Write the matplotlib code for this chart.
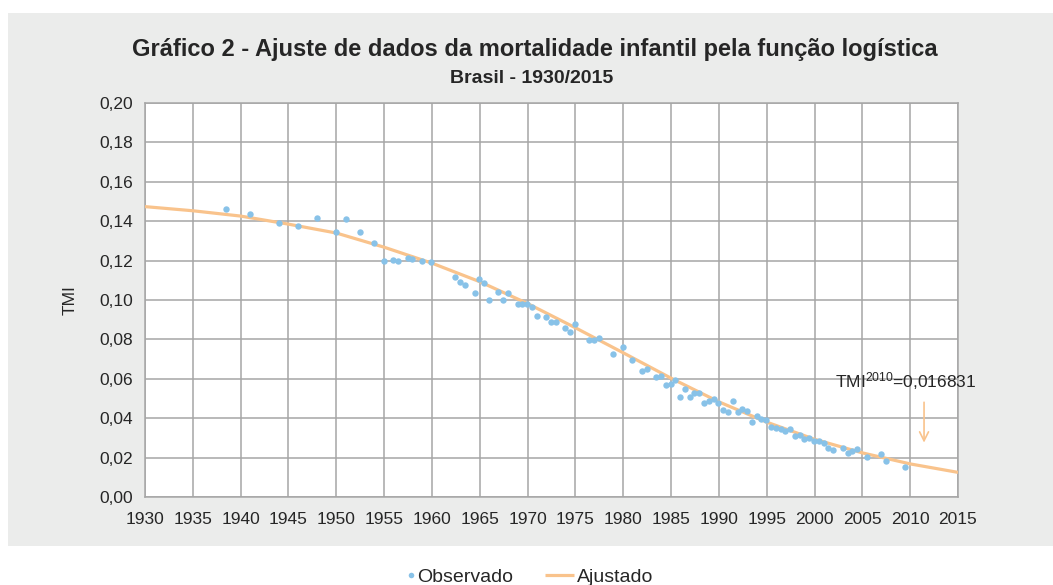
import matplotlib
matplotlib.use("Agg")
import matplotlib.pyplot as plt
from matplotlib.patches import Rectangle
from matplotlib.ticker import MultipleLocator, FuncFormatter
from matplotlib.legend_handler import HandlerLine2DCompound

# ---------------- data ----------------
obs_years = [1938.5, 1941.0, 1944.0, 1946.0, 1948.0, 1950.0, 1951.0, 1952.45, 1953.95,
             1954.95, 1955.95, 1956.45, 1957.45, 1957.95, 1958.95, 1959.95,
             1962.45, 1962.95, 1963.45, 1964.45, 1964.95, 1965.45, 1965.95, 1966.95,
             1967.45, 1967.95, 1968.95, 1969.45, 1969.95, 1970.45, 1970.95, 1971.95,
             1972.45, 1972.95, 1973.95, 1974.45, 1974.95, 1976.45, 1976.95, 1977.45,
             1978.95, 1979.95, 1980.95, 1981.95, 1982.45, 1983.45, 1983.95, 1984.45,
             1984.95, 1985.45, 1985.95, 1986.45, 1986.95, 1987.45, 1987.95, 1988.45,
             1988.95, 1989.45, 1989.95, 1990.45, 1990.95, 1991.45, 1991.95, 1992.45,
             1992.95, 1993.45, 1993.95, 1994.45, 1994.95, 1995.45, 1995.95, 1996.45,
             1996.95, 1997.45, 1997.95, 1998.45, 1998.95, 1999.45, 1999.95, 2000.45,
             2000.95, 2001.45, 2001.95, 2002.95, 2003.45, 2003.95, 2004.45, 2005.45,
             2006.95, 2007.45, 2009.45]
obs_values = [0.1460, 0.1435, 0.1390, 0.1374, 0.1418, 0.1345, 0.1411, 0.1344, 0.1289,
              0.1198, 0.1205, 0.1196, 0.1215, 0.1206, 0.1196, 0.1191,
              0.1115, 0.1091, 0.1078, 0.1037, 0.1108, 0.1088, 0.1002, 0.1042,
              0.1002, 0.1037, 0.0981, 0.0978, 0.0981, 0.0966, 0.0917, 0.0912,
              0.0890, 0.0888, 0.0858, 0.0838, 0.0877, 0.0797, 0.0797, 0.0807,
              0.0724, 0.0761, 0.0694, 0.0640, 0.0650, 0.0611, 0.0614, 0.0569,
              0.0572, 0.0593, 0.0506, 0.0548, 0.0508, 0.0530, 0.0530, 0.0479,
              0.0487, 0.0497, 0.0476, 0.0440, 0.0431, 0.0486, 0.0433, 0.0447,
              0.0437, 0.0381, 0.0410, 0.0394, 0.0391, 0.0355, 0.0352, 0.0345,
              0.0335, 0.0343, 0.0311, 0.0313, 0.0293, 0.0299, 0.0284, 0.0286,
              0.0276, 0.0249, 0.0239, 0.0250, 0.0223, 0.0235, 0.0242, 0.0205,
              0.0217, 0.0183, 0.0154]

fit_years = [1930, 1935, 1940, 1945, 1950, 1955, 1960, 1965, 1970, 1975,
             1980, 1985, 1990, 1995, 2000, 2005, 2010, 2015]
fit_values = [0.1474, 0.1453, 0.1426, 0.1385, 0.1340, 0.1268, 0.1187, 0.1093, 0.0982,
              0.0859, 0.0732, 0.0603, 0.0483, 0.0380, 0.0293, 0.0224, 0.0168, 0.0125]

title_line1 = "Gráfico 2 - Ajuste de dados da mortalidade infantil pela função logística"
title_line2 = "Brasil - 1930/2015"
ylabel_text = "TMI"
annot_text = "TMI$^{2010}$=0,016831"
series_names = ["Observado", "Ajustado"]

# ---------------- style ----------------
plt.rcParams['font.family'] = ['Liberation Sans', 'DejaVu Sans']
plt.rcParams['mathtext.default'] = 'regular'
TEXT = "#262626"
GRID = "#a6a6a6"
BLUE = "#88c2e8"
ORANGE = "#f9c38c"

fig = plt.figure(figsize=(10.53, 5.85), dpi=100)
fig.patch.set_facecolor("white")
fig.patches.append(Rectangle((8 / 1053, 39 / 585), 1 - 8 / 1053, (546 - 13) / 585,
                             transform=fig.transFigure, facecolor="#ebeceb",
                             edgecolor="none", zorder=-10))

ax = fig.add_axes([145 / 1053, (585 - 497) / 585, (958 - 145) / 1053, (497 - 103) / 585])
ax.set_facecolor("white")

ax.plot(fit_years, fit_values, color=ORANGE, lw=2.3, zorder=3, solid_capstyle="butt",
        solid_joinstyle="round", label=series_names[1])
ax.plot(obs_years, obs_values, linestyle="none", marker="o", ms=4.6, color=BLUE,
        markeredgewidth=0, zorder=4, label=series_names[0])

ax.set_xlim(1930, 2015)
ax.set_ylim(0, 0.20)
ax.xaxis.set_major_locator(MultipleLocator(5))
ax.yaxis.set_major_locator(MultipleLocator(0.02))
ax.yaxis.set_major_formatter(FuncFormatter(lambda v, p: f"{v:.2f}".replace(".", ",")))
ax.grid(True, color=GRID, lw=1.1)
ax.set_axisbelow(True)
for s in ax.spines.values():
    s.set_color(GRID)
    s.set_linewidth(1.1)
ax.tick_params(axis="both", length=0, labelsize=12.5, colors=TEXT)
ax.tick_params(axis="x", pad=11)
ax.tick_params(axis="y", pad=8.5)

ax.set_ylabel(ylabel_text, fontsize=12.5, color=TEXT, labelpad=16)

fig.text(534.5 / 1053, 1 - 56 / 585, title_line1, ha="center", va="baseline", fontsize=17,
         fontweight="bold", color=TEXT)
fig.text(532 / 1053, 1 - 83.5 / 585, title_line2, ha="center", va="baseline", fontsize=14,
         fontweight="bold", color=TEXT)

ax.text(2002.1, 0.0589, annot_text, fontsize=12.5, color=TEXT, ha="left", va="center", zorder=5)
ax.annotate("", xy=(2011.45, 0.0262), xytext=(2011.45, 0.0495),
            arrowprops=dict(arrowstyle="->", color=ORANGE, lw=1.2, mutation_scale=16))


class RightMarkerHandler(HandlerLine2DCompound):
    def get_xdata(self, legend, xdescent, ydescent, width, height, fontsize):
        xdata, _ = super().get_xdata(legend, xdescent, ydescent, width, height, fontsize)
        return xdata, [-xdescent + width - 2.0]

    def create_artists(self, legend, orig_handle, xdescent, ydescent, width, height,
                       fontsize, trans):
        arts = super().create_artists(legend, orig_handle, xdescent, ydescent, width,
                                      height, fontsize, trans)
        for a in arts:
            if a.get_marker() in ("o",):
                a.set_markersize(4.0)
        return arts


handles, labels = ax.get_legend_handles_labels()
obs_h, fit_h = handles[1], handles[0]
leg = fig.legend([obs_h, fit_h], [labels[1], labels[0]],
                 loc="center", bbox_to_anchor=(519 / 1053, 1 - 577 / 585), ncol=2,
                 frameon=False, fontsize=14, handlelength=1.49, handletextpad=0.15,
                 columnspacing=1.65, labelcolor=TEXT,
                 handler_map={obs_h: RightMarkerHandler(numpoints=1)})

fig.savefig("out.png", dpi=100, facecolor="white")
